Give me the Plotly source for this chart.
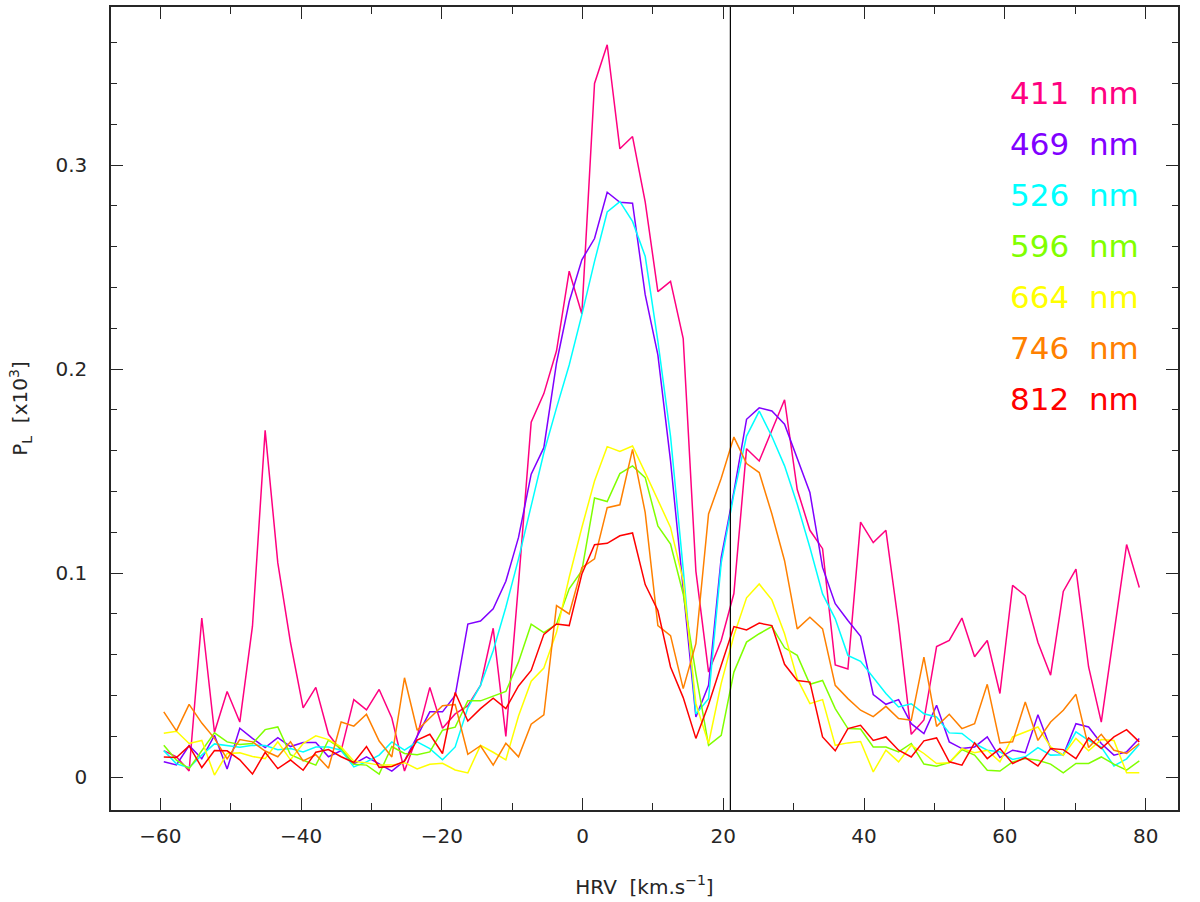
import plotly.graph_objects as go

# HRV grid (km/s)
hrv_start = -59.5
hrv_step = 1.8
n_pts = 78
hrv = [round(hrv_start + hrv_step * i, 2) for i in range(n_pts)]

wavelengths = ["411", "469", "526", "596", "664", "746", "812"]
colors = ["#ff0080", "#8000ff", "#00ffff", "#80ff00", "#ffff00", "#ff8000", "#ff0000"]

p411 = [0.013, 0.010, 0.003, 0.078, 0.022, 0.042, 0.027, 0.074, 0.170, 0.105,
        0.066, 0.034, 0.044, 0.021, 0.013, 0.038, 0.033, 0.043, 0.029, 0.003,
        0.020, 0.044, 0.024, 0.031, 0.035, 0.045, 0.073, 0.020, 0.095, 0.174,
        0.188, 0.209, 0.248, 0.227, 0.340, 0.359, 0.308, 0.314, 0.282, 0.238,
        0.243, 0.215, 0.101, 0.0515, 0.067, 0.090, 0.161, 0.155, 0.170, 0.185,
        0.141, 0.121, 0.112, 0.055, 0.053, 0.125, 0.115, 0.121, 0.075, 0.021,
        0.028, 0.064, 0.067, 0.078, 0.059, 0.067, 0.041, 0.094, 0.089, 0.066,
        0.050, 0.091, 0.102, 0.054, 0.027, 0.070, 0.114, 0.093]

p469 = [0.0075, 0.006, 0.0155, 0.009, 0.0205, 0.004, 0.024, 0.019, 0.0145, 0.0194,
        0.015, 0.017, 0.017, 0.010, 0.013, 0.0065, 0.010, 0.0064, 0.003, 0.008,
        0.020, 0.032, 0.032, 0.040, 0.075, 0.0765, 0.0825, 0.096, 0.1175, 0.1485,
        0.1615, 0.203, 0.233, 0.2536, 0.264, 0.2867, 0.2818, 0.2813, 0.2365, 0.207,
        0.155, 0.094, 0.0295, 0.045, 0.1077, 0.140, 0.1754, 0.181, 0.1795, 0.173,
        0.1566, 0.1395, 0.1028, 0.085, 0.0768, 0.069, 0.0405, 0.0357, 0.038, 0.0262,
        0.0214, 0.0352, 0.0173, 0.014, 0.0148, 0.0197, 0.0096, 0.0132, 0.012, 0.0306,
        0.014, 0.0108, 0.0262, 0.0246, 0.0165, 0.0108, 0.0124, 0.019]

p526 = [0.013, 0.0065, 0.0047, 0.0108, 0.0163, 0.0156, 0.0147, 0.0156, 0.0155, 0.0134,
        0.014, 0.0124, 0.0148, 0.0148, 0.0132, 0.005, 0.0075, 0.0108, 0.0173, 0.0132,
        0.0173, 0.014, 0.0085, 0.0148, 0.034, 0.045, 0.062, 0.0833, 0.107, 0.133,
        0.159, 0.181, 0.202, 0.2267, 0.2528, 0.277, 0.2821, 0.2724, 0.2553, 0.2137,
        0.167, 0.102, 0.031, 0.0385, 0.105, 0.1387, 0.1672, 0.1794, 0.167, 0.1526,
        0.1338, 0.1126, 0.0898, 0.0776, 0.0597, 0.0568, 0.049, 0.041, 0.0344, 0.036,
        0.0311, 0.0295, 0.0217, 0.0214, 0.0165, 0.0132, 0.0124, 0.0087, 0.010, 0.0145,
        0.0108, 0.011, 0.0222, 0.018, 0.0148, 0.0055, 0.009, 0.016]

p596 = [0.0156, 0.0083, 0.0042, 0.0132, 0.0217, 0.0173, 0.016, 0.0165, 0.0233, 0.0246,
        0.011, 0.0083, 0.0059, 0.0182, 0.014, 0.0063, 0.0059, 0.0015, 0.015, 0.0116,
        0.011, 0.0124, 0.023, 0.0245, 0.0375, 0.0374, 0.0396, 0.042, 0.0565, 0.075,
        0.0708, 0.075, 0.0923, 0.1012, 0.1368, 0.1351, 0.1488, 0.1526, 0.1468, 0.1232,
        0.1143, 0.0898, 0.0507, 0.0156, 0.0205, 0.0515, 0.0662, 0.0703, 0.0738, 0.0634,
        0.0597, 0.0455, 0.0474, 0.0336, 0.0238, 0.0236, 0.0148, 0.0148, 0.0124, 0.0165,
        0.0064, 0.0054, 0.0072, 0.0135, 0.0108, 0.0034, 0.003, 0.0075, 0.0091, 0.0083,
        0.0064, 0.0021, 0.0067, 0.0067, 0.0099, 0.0064, 0.0034, 0.008]

p664 = [0.0215, 0.0225, 0.0165, 0.018, 0.001, 0.0116, 0.0119, 0.0101, 0.0091, 0.0173,
        0.0085, 0.0165, 0.0203, 0.0184, 0.0148, 0.0078, 0.007, 0.0059, 0.0059, 0.0071,
        0.004, 0.0063, 0.0068, 0.0035, 0.0021, 0.0156, 0.0122, 0.0085, 0.030, 0.047,
        0.0535, 0.071, 0.098, 0.1224, 0.1452, 0.162, 0.1596, 0.1623, 0.1493, 0.1355,
        0.1224, 0.0963, 0.036, 0.0165, 0.046, 0.0694, 0.0879, 0.0947, 0.0869, 0.0703,
        0.0483, 0.036, 0.038, 0.0156, 0.0168, 0.0175, 0.0026, 0.0132, 0.0075, 0.0156,
        0.0116, 0.0067, 0.007, 0.014, 0.012, 0.0132, 0.0075, 0.0197, 0.0222, 0.0246,
        0.0148, 0.0108, 0.019, 0.0129, 0.0184, 0.018, 0.0021, 0.0021]

p746 = [0.032, 0.0227, 0.0357, 0.0265, 0.019, 0.009, 0.0184, 0.0173, 0.0128, 0.010,
        0.0173, 0.008, 0.011, 0.0044, 0.027, 0.025, 0.0308, 0.0177, 0.0099, 0.0487,
        0.023, 0.029, 0.035, 0.0356, 0.0112, 0.0154, 0.0059, 0.0166, 0.010, 0.026,
        0.0305, 0.0841, 0.080, 0.1027, 0.107, 0.1321, 0.1335, 0.1607, 0.1297, 0.0743,
        0.0694, 0.0434, 0.0654, 0.129, 0.1465, 0.1667, 0.1537, 0.1493, 0.129, 0.1061,
        0.0727, 0.0784, 0.0727, 0.045, 0.0385, 0.0328, 0.0297, 0.0347, 0.0287, 0.0279,
        0.0588, 0.0249, 0.0308, 0.0238, 0.0262, 0.0455, 0.0168, 0.0173, 0.0368, 0.018,
        0.027, 0.0328, 0.0406, 0.0145, 0.021, 0.0132, 0.0116, 0.0165]

p812 = [0.0099, 0.0096, 0.0153, 0.0047, 0.013, 0.0129, 0.0085, 0.0015, 0.0122, 0.0042,
        0.0084, 0.0034, 0.0122, 0.0135, 0.010, 0.0072, 0.015, 0.0048, 0.0052, 0.0078,
        0.0182, 0.021, 0.0116, 0.0415, 0.0275, 0.0336, 0.0387, 0.0336, 0.0447, 0.0523,
        0.070, 0.0751, 0.0743, 0.0996, 0.1139, 0.1146, 0.1183, 0.1197, 0.0944, 0.0817,
        0.054, 0.039, 0.019, 0.0356, 0.0548, 0.0738, 0.0722, 0.0755, 0.0743, 0.0553,
        0.0474, 0.0466, 0.0197, 0.0129, 0.0238, 0.0254, 0.018, 0.0197, 0.0132, 0.0099,
        0.0178, 0.0192, 0.0075, 0.0059, 0.0168, 0.0091, 0.014, 0.0067, 0.0096, 0.0055,
        0.014, 0.0135, 0.0091, 0.0192, 0.014, 0.0197, 0.0233, 0.0173]

series = [p411, p469, p526, p596, p664, p746, p812]

vline_hrv = 21.0

FONT = "DejaVu Sans"
AXCOL = "#262626"

fig = go.Figure()
for wl, col, ys in zip(wavelengths, colors, series):
    fig.add_trace(go.Scatter(x=hrv, y=ys, mode="lines", name=wl + " nm",
                             line=dict(color=col, width=1.5), showlegend=False,
                             hoverinfo="skip"))

fig.add_shape(type="line", xref="x", yref="paper", x0=vline_hrv, x1=vline_hrv,
              y0=0, y1=1, line=dict(color="black", width=1.2))

# plot-area frame in pixels
L, R, T, B = 110.5, 1178.0, 5.0, 810.0

# legend as coloured text (pixel positions converted to domain fractions)
for k, (wl, col) in enumerate(zip(wavelengths, colors)):
    px_x, px_y = 1141.0, 91.7 + 51.1 * k
    fig.add_annotation(x=(px_x - L) / (R - L), y=(B - px_y) / (B - T),
                       xref="x domain", yref="y domain",
                       text=wl + "  nm", showarrow=False, xanchor="right", yanchor="middle",
                       font=dict(family=FONT, size=31, color=col))

fig.update_layout(
    width=1200, height=902,
    margin=dict(l=L, r=1200 - R, t=T, b=902 - B, pad=0),
    paper_bgcolor="white", plot_bgcolor="white",
    font=dict(family=FONT, size=20, color=AXCOL),
    hovermode=False,
)

fig.update_xaxes(
    range=[-67.0, 84.6], tickmode="array", tickvals=[-60, -40, -20, 0, 20, 40, 60, 80],
    ticks="inside", ticklen=12, tickwidth=1.3, tickcolor=AXCOL,
    minor=dict(dtick=10, tick0=0, ticks="inside", ticklen=7, tickwidth=1.3, tickcolor=AXCOL),
    showline=True, linecolor=AXCOL, linewidth=1.5, mirror="ticks",
    showgrid=False, zeroline=False, ticklabelstandoff=7,
    title=dict(text="HRV  [km.s<sup>−1</sup>]", standoff=33, font=dict(size=20)),
)
fig.update_yaxes(
    range=[-0.0161, 0.3775], tickmode="array", tickvals=[0, 0.1, 0.2, 0.3],
    ticktext=["0", "0.1", "0.2", "0.3"],
    ticks="inside", ticklen=12, tickwidth=1.3, tickcolor=AXCOL,
    minor=dict(dtick=0.02, tick0=0, ticks="inside", ticklen=6, tickwidth=1.3, tickcolor=AXCOL),
    showline=True, linecolor=AXCOL, linewidth=1.5, mirror="ticks",
    showgrid=False, zeroline=False, ticklabelstandoff=18,
    title=dict(text="P<sub>L</sub>  [x10<sup>3</sup>]", standoff=22, font=dict(size=20)),
)

fig.write_html("out.html", config={"displayModeBar": False},
               post_script="document.body.style.margin='0';")
